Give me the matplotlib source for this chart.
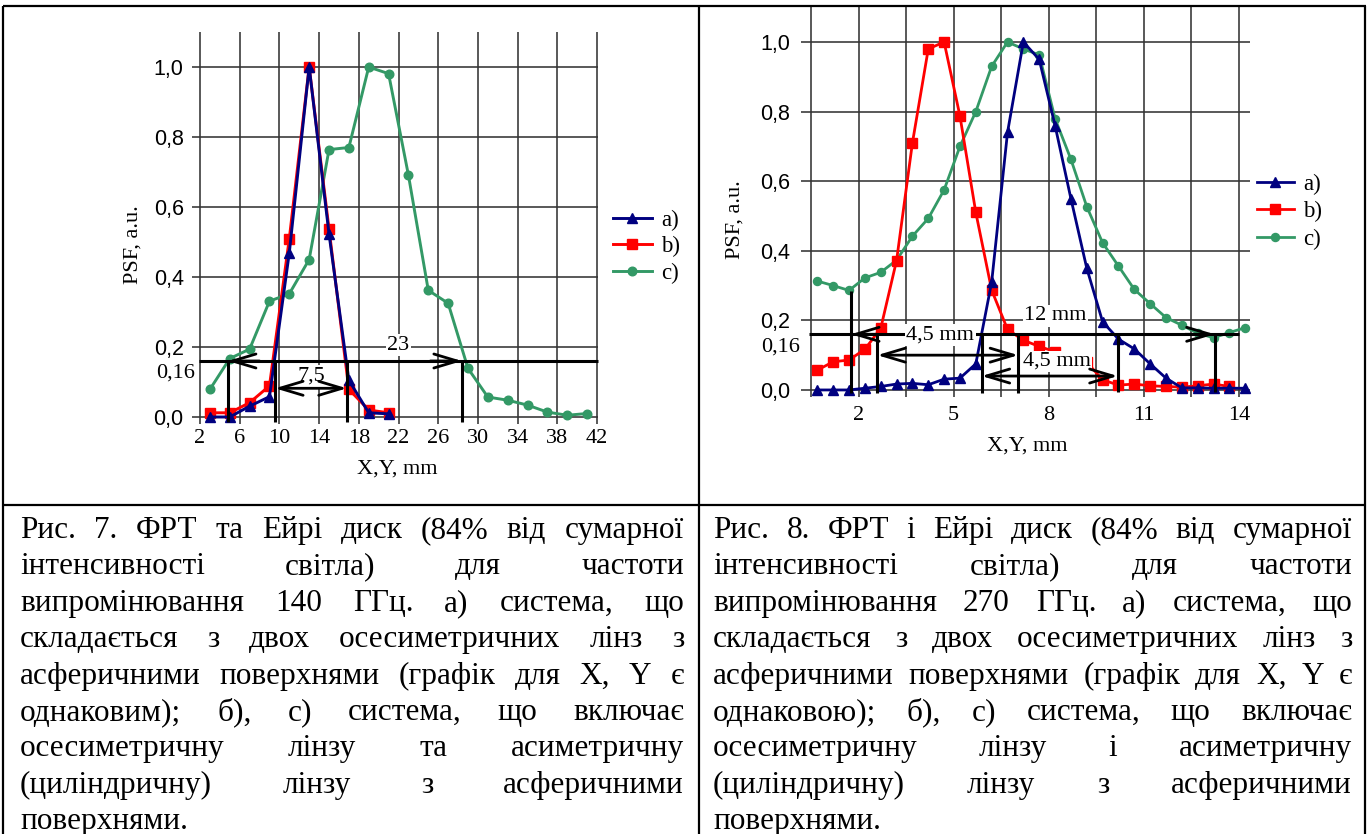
import matplotlib
matplotlib.use('Agg')
import matplotlib.pyplot as plt
from matplotlib.patches import FancyArrowPatch
from matplotlib.lines import Line2D

W, H = 1370, 834
SERIF = ['Liberation Serif', 'DejaVu Serif']
SANS = ['Liberation Sans', 'DejaVu Sans']
NAVY, RED, GREEN = '#000080', '#FF0000', '#339966'

# ---------------- data: left chart (140 GHz) ----------------
left_x_ab = [3, 5, 7, 9, 11, 13, 15, 17, 19, 21]
left_a = [0.0, 0.0, 0.031, 0.058, 0.47, 1.0, 0.523, 0.105, 0.012, 0.009]
left_b = [0.012, 0.012, 0.041, 0.089, 0.51, 1.0, 0.537, 0.079, 0.02, 0.012]
left_x_c = [3, 5, 7, 9, 11, 13, 15, 17, 19, 21, 23, 25, 27, 29, 31, 33, 35, 37, 39, 41]
left_c = [0.079, 0.167, 0.194, 0.331, 0.352, 0.45, 0.764, 0.77, 1.0, 0.981,
          0.691, 0.362, 0.325, 0.139, 0.057, 0.048, 0.034, 0.014, 0.005, 0.01]
left_xticks = [2, 6, 10, 14, 18, 22, 26, 30, 34, 38, 42]

# ---------------- data: right chart (270 GHz) ----------------
right_x = [0.7, 1.2, 1.7, 2.2, 2.7, 3.2, 3.7, 4.2, 4.7, 5.2, 5.7, 6.2, 6.7, 7.2,
           7.7, 8.2, 8.7, 9.2, 9.7, 10.2, 10.7, 11.2, 11.7, 12.2, 12.7, 13.2, 13.7, 14.2]
right_a = [0.0, 0.0, 0.0, 0.005, 0.01, 0.017, 0.019, 0.015, 0.031, 0.034, 0.075, 0.31,
           0.74, 1.0, 0.95, 0.76, 0.55, 0.35, 0.196, 0.146, 0.118, 0.075, 0.034, 0.006,
           0.006, 0.005, 0.005, 0.005]
right_x_b = [0.7, 1.2, 1.7, 2.2, 2.7, 3.2, 3.7, 4.2, 4.7, 5.2, 5.7, 6.2, 6.7, 7.2,
             7.7, 8.2, 8.7, 9.2, 9.7, 10.2, 10.7, 11.2, 11.7, 12.2, 12.7, 13.2, 13.7]
right_b = [0.057, 0.081, 0.086, 0.117, 0.177, 0.372, 0.71, 0.98, 1.0, 0.787, 0.51,
           0.287, 0.174, 0.143, 0.125, 0.11, 0.095, 0.08, 0.029, 0.014, 0.017, 0.012,
           0.01, 0.008, 0.012, 0.017, 0.01]
right_c = [0.313, 0.30, 0.286, 0.322, 0.338, 0.373, 0.442, 0.493, 0.575, 0.70, 0.80,
           0.93, 1.0, 0.98, 0.963, 0.78, 0.663, 0.527, 0.423, 0.356, 0.289, 0.248,
           0.208, 0.186, 0.163, 0.15, 0.165, 0.179]
right_xticks = [0.5, 2, 3.5, 5, 6.5, 8, 9.5, 11, 12.5, 14]
right_xticklabels = ['', '2', '', '5', '', '8', '', '11', '', '14']

yticks = [0.0, 0.2, 0.4, 0.6, 0.8, 1.0]
ytick_labels = ['0,0', '0,2', '0,4', '0,6', '0,8', '1,0']
legend_labels = ['a)', 'b)', 'c)']

caption_left = [
    "Рис. 7. ФРТ та Ейрі диск (84% від сумарної",
    "інтенсивності світла) для частоти",
    "випромінювання 140 ГГц. а) система, що",
    "складається з двох осесиметричних лінз з",
    "асферичними поверхнями (графік для X, Y є",
    "однаковим); б), с) система, що включає",
    "осесиметричну лінзу та асиметричну",
    "(циліндричну) лінзу з асферичними",
    "поверхнями.",
]
caption_right = [
    "Рис. 8. ФРТ і Ейрі диск (84% від сумарної",
    "інтенсивності світла) для частоти",
    "випромінювання 270 ГГц. а) система, що",
    "складається з двох осесиметричних лінз з",
    "асферичними поверхнями (графік для X, Y є",
    "однаковою); б), с) система, що включає",
    "осесиметричну лінзу і асиметричну",
    "(циліндричну) лінзу з асферичними",
    "поверхнями.",
]

fig = plt.figure(figsize=(W / 100, H / 100), dpi=100)
fig.patch.set_facecolor('white')

XT_FS = 16
YT_FS = 15.5
AX_FS = 16
ANN_FS = 16
LEG_FS = 16.5
CAP_FS = 22.5


def px_axes(x0, x1, ytop, ybot):
    return fig.add_axes([x0 / W, 1 - ybot / H, (x1 - x0) / W, (ybot - ytop) / H])


def style_axes(ax, xticks, xlabels, ylen, ypad, xlen, xpad):
    for s in ax.spines.values():
        s.set_visible(False)
    ax.set_axisbelow(True)
    ax.set_xticks(xticks)
    ax.set_xticklabels(xlabels, family=SERIF, fontsize=XT_FS)
    ax.set_yticks(yticks)
    ax.set_yticklabels(ytick_labels, family=SANS, fontsize=YT_FS)
    ax.grid(True, color='#333333', lw=1.15)
    ax.tick_params(axis='y', direction='out', length=ylen, width=1.15, color='#333333', pad=ypad)
    ax.tick_params(axis='x', direction='out', length=xlen, width=1.15, color='#333333', pad=xpad)
    ax.set_facecolor('none')


def hline(ax, x0, x1, y, z=5):
    ax.plot([x0, x1], [y, y], color='black', lw=2.2, zorder=z, clip_on=False,
            solid_capstyle='butt')


def vline(ax, x, y0, y1, z=5):
    ax.plot([x, x], [y0, y1], color='black', lw=2.2, zorder=z, clip_on=False,
            solid_capstyle='butt')


def head(ax, xtail, xtip, y, z=5):
    ax.add_patch(FancyArrowPatch((xtail, y), (xtip, y),
                                 arrowstyle='->,head_length=1.4,head_width=0.42',
                                 mutation_scale=12, lw=2.0, color='black', zorder=z,
                                 clip_on=False, shrinkA=0, shrinkB=0))


def dbl(ax, x0, x1, y, z=5):
    ax.add_patch(FancyArrowPatch((x0, y), (x1, y),
                                 arrowstyle='<->,head_length=1.4,head_width=0.42',
                                 mutation_scale=12, lw=2.0, color='black', zorder=z,
                                 clip_on=False, shrinkA=0, shrinkB=0))


def label(ax, x, y, s, box=True, z=4):
    kw = dict(ha='center', va='center', fontsize=ANN_FS, family=SERIF, zorder=z)
    if box:
        kw['bbox'] = dict(fc='white', ec='none', pad=1.0)
    ax.text(x, y, s, **kw)


# ---------------- left chart ----------------
axL = px_axes(199.0, 598.0, 32, 418.75)
axL.set_xlim(1.9, 42.1)
axL.set_ylim(-0.005, 1.1)
style_axes(axL, left_xticks, [str(v) for v in left_xticks], 5, 6.0, 3.6, 4.0)
axL.plot(left_x_c, left_c, color=GREEN, marker='o', ms=6.2, lw=2.1, zorder=2, clip_on=False)
axL.plot(left_x_ab, left_b, color=RED, marker='s', ms=6.8, lw=2.1, zorder=2, clip_on=False)
axL.plot(left_x_ab, left_a, color=NAVY, marker='^', ms=7.8, lw=2.1, zorder=2, clip_on=False)

hline(axL, 1.9, 42.1, 0.16)
vline(axL, 4.8, 0.16, -0.015)
vline(axL, 28.4, 0.16, -0.015)
head(axL, 8.0, 4.8, 0.16)
head(axL, 25.2, 28.4, 0.16)
vline(axL, 9.55, 0.16, -0.015)
vline(axL, 16.8, 0.16, -0.015)
dbl(axL, 9.55, 16.8, 0.082)
label(axL, 22.0, 0.205, '23', z=4)
label(axL, 13.25, 0.117, '7,5', z=4)
axL.text(1.5, 0.125, '0,16', ha='right', va='center', fontsize=XT_FS, family=SERIF)

# ---------------- right chart ----------------
axR = px_axes(809.4, 1250.0, 7.2, 391.7)
axR.set_xlim(0.45, 14.35)
axR.set_ylim(-0.005, 1.1)
style_axes(axR, right_xticks, right_xticklabels, 5.8, 8.0, 3.6, 7.0)
axR.plot(right_x, right_c, color=GREEN, marker='o', ms=5.8, lw=2.0, zorder=2, clip_on=False)
axR.plot(right_x_b, right_b, color=RED, marker='s', ms=6.8, lw=2.0, zorder=2, clip_on=False)
axR.plot(right_x, right_a, color=NAVY, marker='^', ms=7.3, lw=2.0, zorder=2, clip_on=False)

hline(axR, 0.45, 14.0, 0.16, z=3)
vline(axR, 1.76, 0.285, -0.01)
head(axR, 2.6, 1.76, 0.16, z=3)
vline(axR, 13.24, 0.16, -0.005)
head(axR, 12.3, 13.24, 0.16, z=3)
vline(axR, 2.59, 0.16, -0.01)
vline(axR, 7.04, 0.16, -0.01)
dbl(axR, 2.59, 7.04, 0.10)
vline(axR, 5.88, 0.16, -0.01)
vline(axR, 10.18, 0.16, -0.005)
dbl(axR, 5.88, 10.18, 0.04)
label(axR, 8.2, 0.213, '12 mm', z=4)
label(axR, 4.58, 0.157, '4,5 mm', z=4)
label(axR, 8.26, 0.082, '4,5 mm', z=4)
axR.text(0.15, 0.124, '0,16', ha='right', va='center', fontsize=XT_FS, family=SERIF)

# axis titles
fig.text(133 / W, 1 - 245 / H, 'PSF, a.u.', rotation=90, ha='center', va='center',
         fontsize=AX_FS, family=SERIF)
fig.text(397 / W, 1 - 469 / H, 'X,Y, mm', ha='center', va='center', fontsize=AX_FS, family=SERIF)
fig.text(735 / W, 1 - 220 / H, 'PSF, a.u.', rotation=90, ha='center', va='center',
         fontsize=AX_FS, family=SERIF)
fig.text(1027 / W, 1 - 446 / H, 'X,Y, mm', ha='center', va='center', fontsize=AX_FS, family=SERIF)


# legends
def make_handles(ms_t, ms_s, ms_c, lw):
    return [Line2D([], [], color=NAVY, marker='^', ms=ms_t, lw=lw),
            Line2D([], [], color=RED, marker='s', ms=ms_s, lw=lw),
            Line2D([], [], color=GREEN, marker='o', ms=ms_c, lw=lw)]


fig.legend(make_handles(7.8, 6.8, 6.2, 2.1), legend_labels, loc='upper left',
           bbox_to_anchor=(613 / W, 1 - 210 / H), frameon=False,
           prop={'family': SERIF, 'size': LEG_FS}, handlelength=1.7, handletextpad=0.4,
           labelspacing=0.22, borderpad=0, borderaxespad=0)
fig.legend(make_handles(7.3, 6.8, 5.8, 2.0), legend_labels, loc='upper left',
           bbox_to_anchor=(1257 / W, 1 - 174 / H), frameon=False,
           prop={'family': SERIF, 'size': LEG_FS}, handlelength=1.6, handletextpad=0.4,
           labelspacing=0.27, borderpad=0, borderaxespad=0)

# ---------------- table borders and captions ----------------
ov = fig.add_axes([0, 0, 1, 1], zorder=10)
ov.set_xlim(0, W)
ov.set_ylim(H, 0)
ov.axis('off')
bk = dict(color='black', lw=1.6, solid_capstyle='butt')
ov.plot([3, 1366], [6, 6], **bk)
ov.plot([3, 1366], [505, 505], **bk)
ov.plot([3.5, 3.5], [6, 834], **bk)
ov.plot([699, 699], [6, 834], **bk)
ov.plot([1365, 1365], [6, 834], **bk)

renderer = fig.canvas.get_renderer()


def justify(lines, x0, x1, base0, step):
    for i, line in enumerate(lines):
        words = line.split(' ')
        y = base0 + i * step
        texts = [ov.text(0, y, w, fontsize=CAP_FS, family=SERIF, va='baseline', ha='left')
                 for w in words]
        widths = [t.get_window_extent(renderer).width for t in texts]
        if i == len(lines) - 1 or len(words) == 1:
            sp = CAP_FS * 100 / 72 * 0.25
            x = x0
            for t, w in zip(texts, widths):
                t.set_x(x)
                x += w + sp
        else:
            gap = (x1 - x0 - sum(widths)) / (len(words) - 1)
            x = x0
            for t, w in zip(texts, widths):
                t.set_x(x)
                x += w + gap


justify(caption_left, 20, 684, 538, 36.4)
justify(caption_right, 713, 1352, 538, 36.4)

fig.savefig('out.png', dpi=100, facecolor='white')
